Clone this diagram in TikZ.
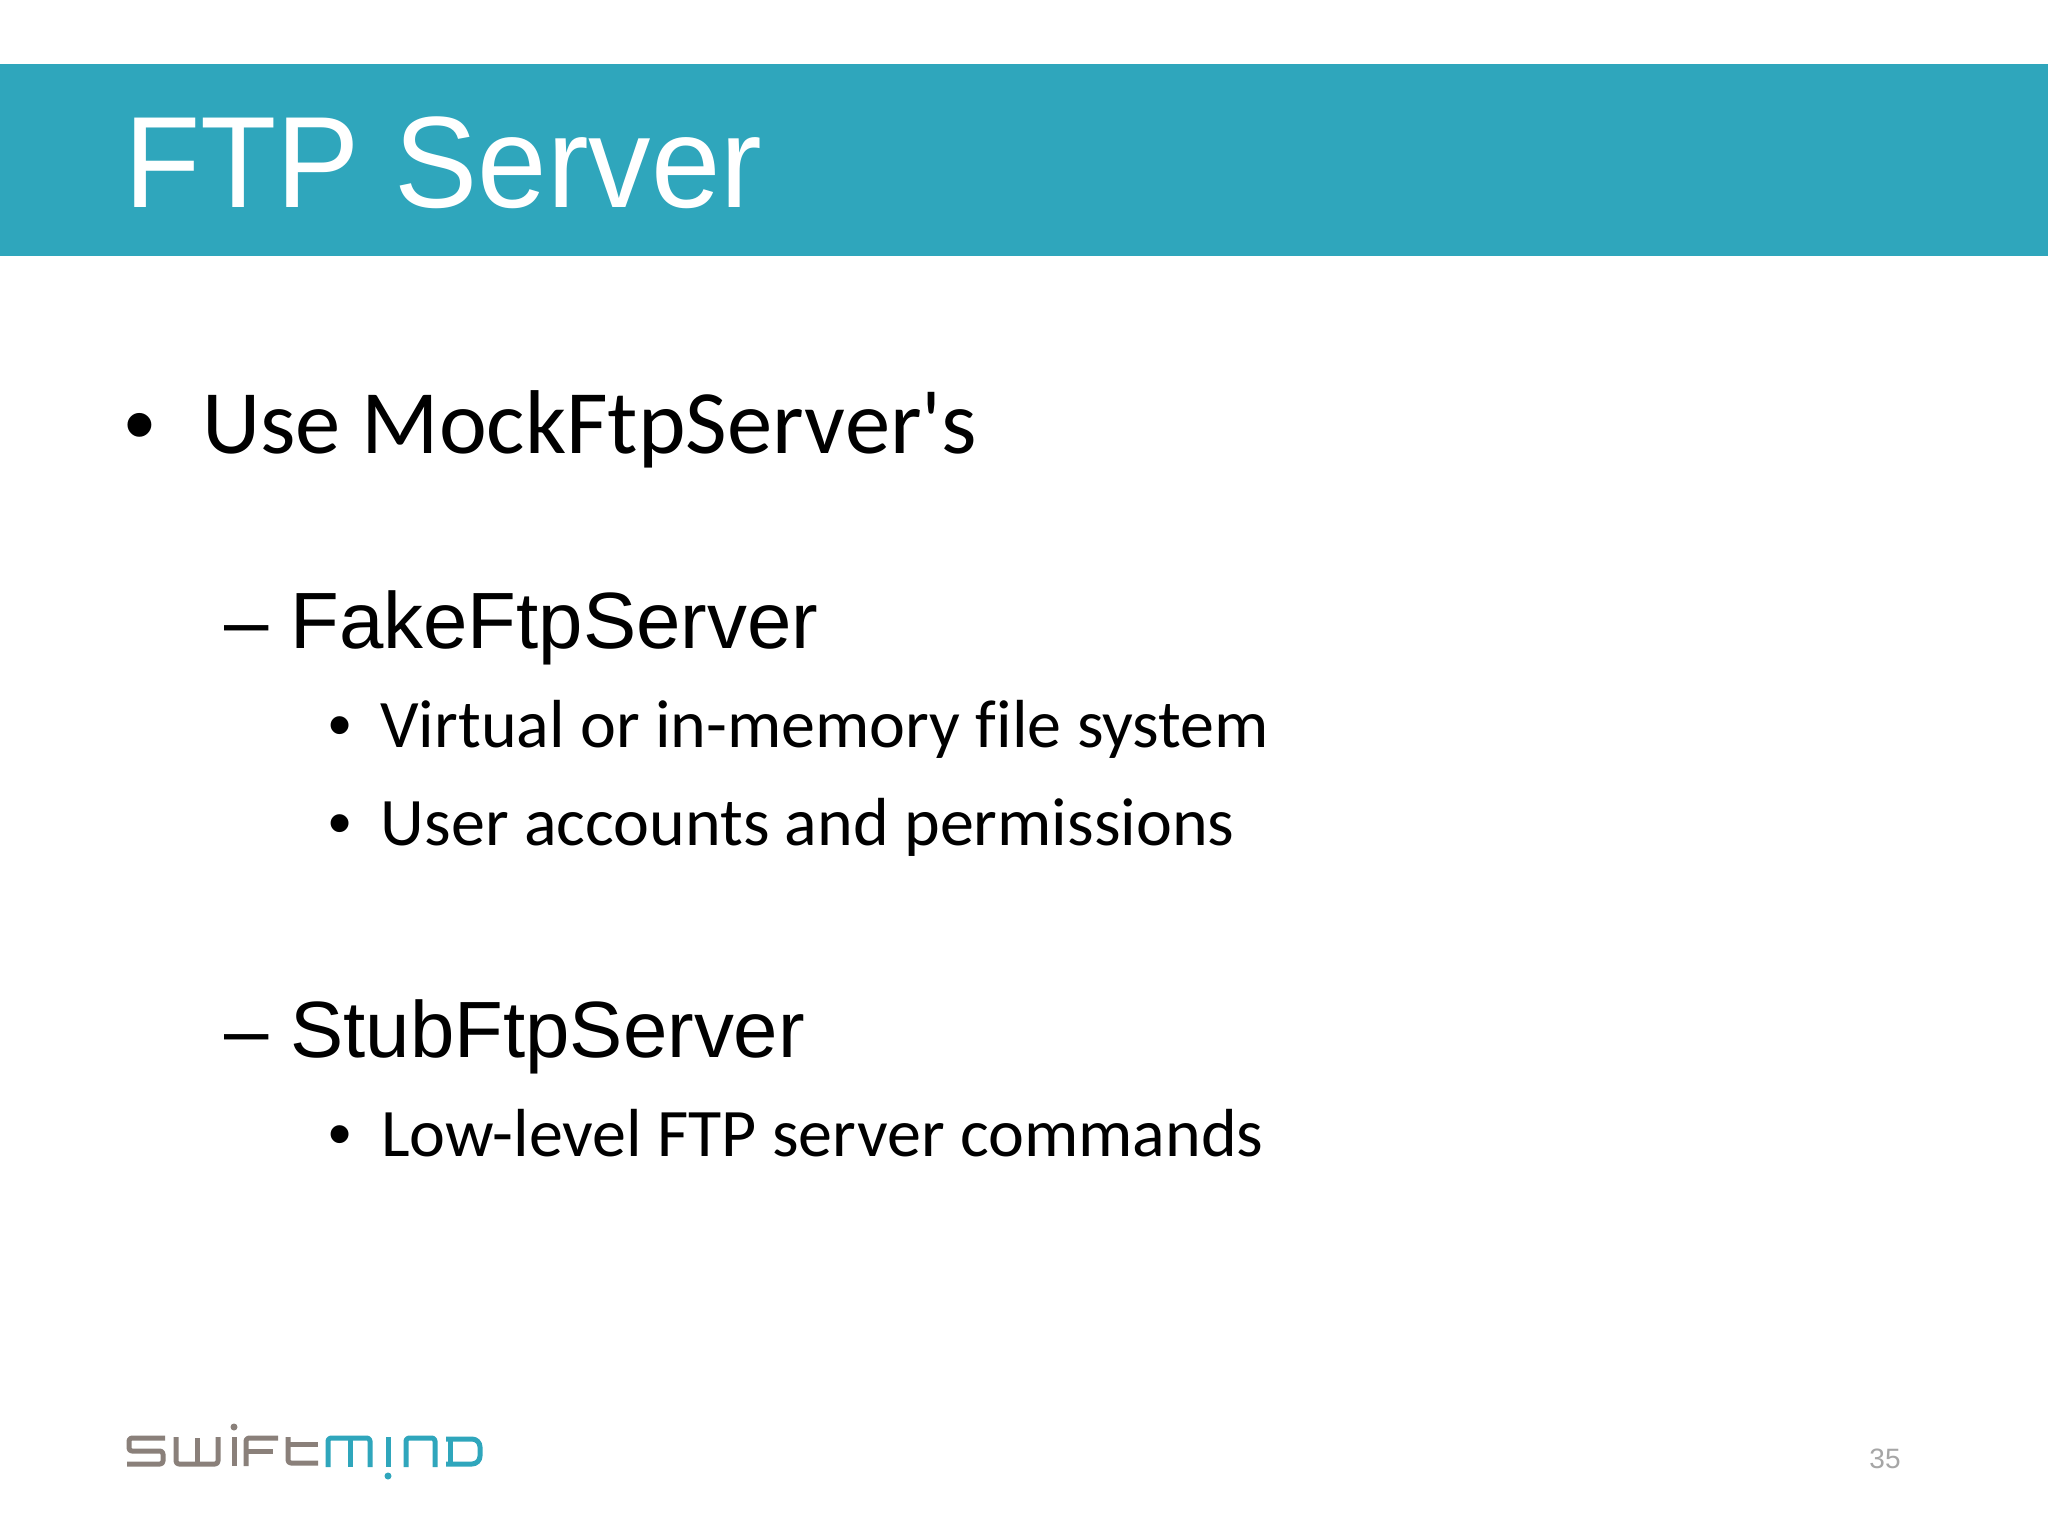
\documentclass[tikz,border=0pt]{standalone}
\usepackage{fontspec}
\setmainfont{Liberation Sans}
\newfontfamily\carl[Ligatures=NoCommon]{Carlito}
\definecolor{banner}{HTML}{2FA6BC}
\definecolor{logogray}{HTML}{8A807A}
\definecolor{pagegray}{HTML}{A6A6A6}
\tikzset{
  txt/.style={anchor=base west,inner sep=0pt,text=black},
  lone/.style={txt,font=\carl\fontsize{45.3}{54}\selectfont},
  ltwo/.style={txt,font=\fontsize{39.9}{48}\selectfont},
  lthree/.style={txt,font=\carl\fontsize{34}{41}\selectfont},
  bone/.style={anchor=base,inner sep=0pt,text=black,font=\fontsize{44}{52}\selectfont},
  bthree/.style={anchor=base,inner sep=0pt,text=black,font=\fontsize{33}{40}\selectfont},
  lg/.style={line width=2.5pt,line join=round,rounded corners=1.5pt,draw=logogray},
  lt/.style={lg,draw=banner},
}
\begin{document}
\begin{tikzpicture}[x=0.5pt,y=-0.5pt]
\useasboundingbox (0,0) rectangle (2048,1536);
\fill[white] (0,0) rectangle (2048,1536);
\fill[banner] (0,64) rectangle (2048,256);
\node[txt,text=white,font=\fontsize{65}{78}\selectfont,xscale=0.96,transform shape] (title) at (124,207) {FTP Server};
\node[bone] (b1) at (140,454.6) {•};
\node[lone] (t1) at (202,453) {Use MockFtpServer's};
\node[ltwo] (d1) at (224,648) {–};
\node[ltwo] (t2) at (290,648) {FakeFtpServer};
\node[bthree] (b2) at (340,747.4) {•};
\node[lthree] (t3) at (380,747.3) {Virtual or in-memory file system};
\node[bthree] (b3) at (340,845.4) {•};
\node[lthree] (t4) at (380.5,845.3) {User accounts and permissions};
\node[ltwo] (d2) at (224,1057) {–};
\node[ltwo] (t5) at (290,1057) {StubFtpServer};
\node[bthree] (b4) at (340,1156.4) {•};
\node[lthree] (t6) at (381,1156.3) {Low-level FTP server commands};
\node[txt,text=pagegray,font=\fontsize{14}{17}\selectfont] (page) at (1869,1468) {35};
% logo
\draw[lg] (165,1438) -- (129,1438) -- (129,1451) -- (163,1451) -- (163,1464) -- (127,1464);
\draw[lg] (176,1437) -- (176,1464) -- (218,1464) -- (218,1437);
\draw[lg,rounded corners=0pt] (197,1438) -- (197,1464);
\draw[lg] (234,1437) -- (234,1466);
\fill[logogray] (234,1427) circle (3.5);
\draw[lg] (278,1438) -- (246,1438) -- (246,1466);
\draw[lg] (246,1451) -- (273,1451);
\draw[lg] (288,1437) -- (288,1463) -- (318,1463);
\draw[lg] (288,1444) -- (318,1444);
\draw[lt] (328,1467) -- (328,1438) -- (370,1438) -- (370,1467);
\draw[lt,rounded corners=0pt] (350,1438) -- (350,1467);
\draw[lt] (388,1437) -- (388,1467);
\fill[banner] (388,1476) circle (3.5);
\draw[lt] (406,1467) -- (406,1438) -- (435,1438) -- (435,1467);
\draw[lt,rounded corners=0pt] (450,1437.6) -- (450,1465.4);
\draw[lt,rounded corners=4pt] (446,1439) -- (480,1439) -- (480,1464) -- (446,1464);
\end{tikzpicture}
\end{document}
